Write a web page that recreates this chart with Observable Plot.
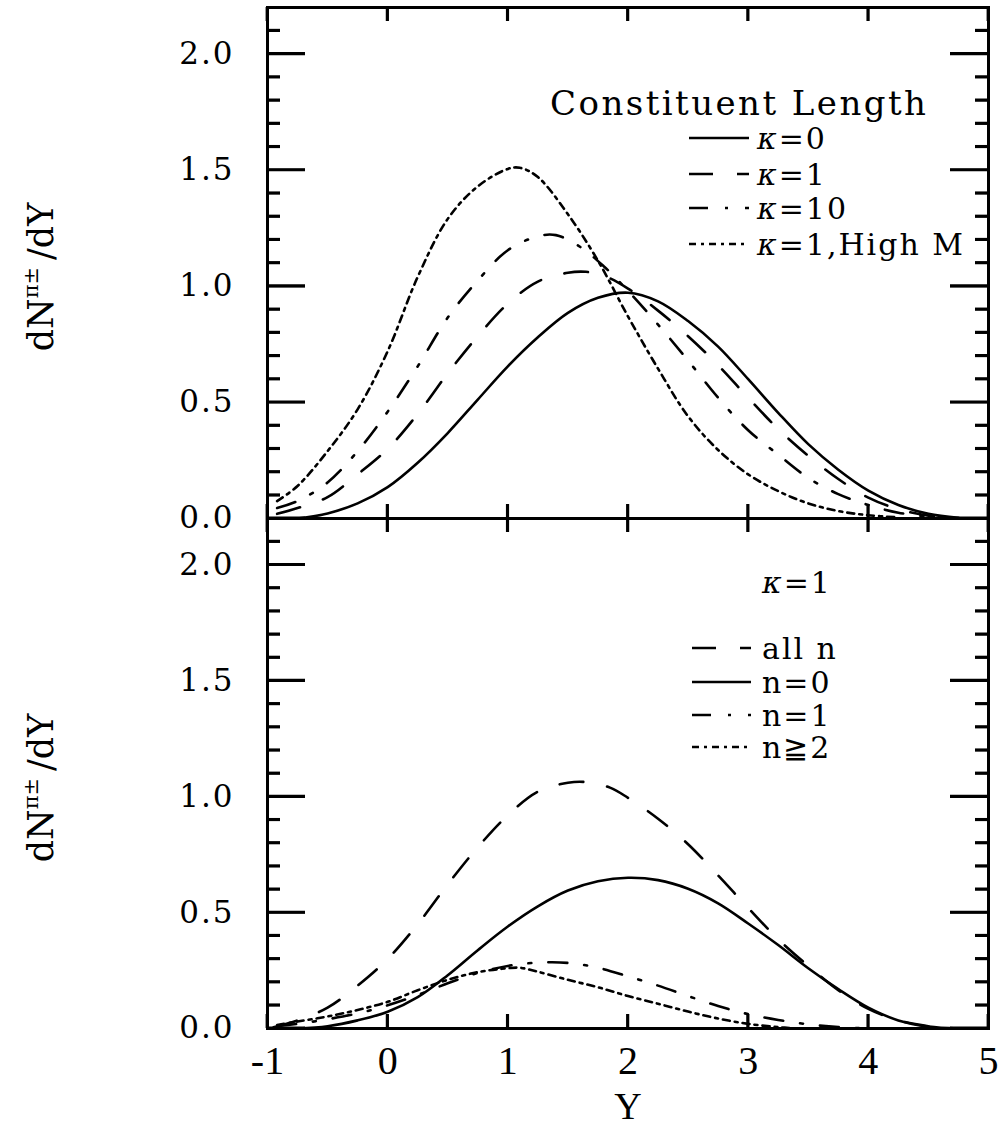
<!DOCTYPE html>
<html><head><meta charset="utf-8">
<script src="https://cdn.jsdelivr.net/npm/d3@7"></script>
<script src="https://cdn.jsdelivr.net/npm/@observablehq/plot@0.6"></script>
<style>
body{margin:0;background:#fff;}
#wrap{position:relative;width:1005px;height:1128px;background:#fff;}
#wrap > svg{position:absolute;left:0;top:0;}
</style></head><body><div id="wrap"></div>
<script>
// ---- axis ticks ----
const xTicks = [-1, 0, 1, 2, 3, 4, 5];
const xTickLabels = ["-1", "0", "1", "2", "3", "4", "5"];
const yMajor = [0, 0.5, 1, 1.5, 2];
const yMajorLabels = ["0.0", "0.5", "1.0", "1.5", "2.0"];
const yMinor = [0.1, 0.2, 0.3, 0.4, 0.6, 0.7, 0.8, 0.9, 1.1, 1.2, 1.3, 1.4, 1.6, 1.7, 1.8, 1.9, 2.1];

// ---- top panel: Constituent Length ----
const topTitle = "Constituent Length";
const topLabels = ["κ=0", "κ=1", "κ=10", "κ=1,High M"];
const k0X = [-0.75,-0.5,-0.25,0,0.25,0.5,0.75,1,1.25,1.5,1.75,2,2.25,2.5,2.75,3,3.25,3.5,3.75,4,4.25,4.5,4.75];
const k0Y = [0,0.022,0.065,0.135,0.24,0.368,0.512,0.655,0.78,0.885,0.95,0.972,0.935,0.85,0.74,0.60,0.455,0.32,0.21,0.12,0.058,0.02,0.003];
const k1X = [-0.92,-0.75,-0.5,-0.25,0,0.25,0.5,0.75,1,1.25,1.5,1.65,1.8,2,2.25,2.5,2.75,3,3.25,3.5,3.75,4,4.25,4.5,4.7];
const k1Y = [0.02,0.045,0.092,0.19,0.30,0.45,0.625,0.785,0.925,1.02,1.058,1.062,1.045,0.99,0.895,0.785,0.66,0.52,0.385,0.27,0.17,0.09,0.04,0.012,0.002];
const k10X = [-0.92,-0.75,-0.5,-0.25,0,0.25,0.5,0.75,1,1.25,1.4,1.6,1.8,2,2.25,2.5,2.75,3,3.25,3.5,3.75,4,4.25,4.5];
const k10Y = [0.045,0.075,0.155,0.29,0.46,0.655,0.865,1.025,1.155,1.215,1.22,1.17,1.085,0.98,0.835,0.68,0.52,0.38,0.275,0.175,0.105,0.058,0.025,0.007];
const hmX = [-0.92,-0.75,-0.5,-0.25,0,0.25,0.5,0.75,1,1.1,1.25,1.5,1.75,2,2.25,2.5,2.75,3,3.25,3.5,3.75,4,4.25];
const hmY = [0.075,0.14,0.29,0.47,0.72,1.04,1.29,1.43,1.505,1.51,1.47,1.31,1.11,0.87,0.645,0.44,0.295,0.19,0.118,0.065,0.032,0.014,0.005];

// ---- bottom panel: kappa = 1 decomposition ----
const bottomHeader = "κ=1";
const bottomLabels = ["all n", "n=0", "n=1", "n≧2"];
const allX = [-0.95,-0.75,-0.5,-0.25,0,0.25,0.5,0.75,1,1.25,1.5,1.65,1.85,2,2.25,2.5,2.75,3,3.25,3.5,3.75,4,4.25,4.5,4.7];
const allY = [0.005,0.035,0.09,0.185,0.30,0.45,0.622,0.782,0.92,1.022,1.06,1.063,1.039,0.995,0.905,0.795,0.66,0.52,0.385,0.27,0.165,0.085,0.035,0.01,0.001];
const n0X = [-0.75,-0.5,-0.25,0,0.25,0.5,0.75,1,1.25,1.5,1.75,2,2.25,2.5,2.75,3,3.25,3.5,3.75,4,4.25,4.5,4.75];
const n0Y = [0,0.01,0.035,0.072,0.135,0.23,0.338,0.44,0.527,0.595,0.635,0.65,0.64,0.603,0.54,0.453,0.36,0.26,0.17,0.09,0.035,0.008,0];
const n1X = [-0.92,-0.75,-0.5,-0.25,0,0.25,0.5,0.75,1,1.25,1.5,1.75,2,2.25,2.5,2.75,3,3.25,3.5,3.75,4];
const n1Y = [0.01,0.02,0.04,0.065,0.10,0.145,0.195,0.24,0.27,0.284,0.283,0.262,0.225,0.185,0.14,0.097,0.062,0.037,0.018,0.006,0];
const n2X = [-0.92,-0.75,-0.5,-0.25,0,0.25,0.5,0.75,1,1.1,1.25,1.5,1.75,2,2.25,2.5,2.75,3,3.25,3.4];
const n2Y = [0.015,0.03,0.052,0.08,0.115,0.165,0.21,0.243,0.26,0.262,0.245,0.21,0.178,0.14,0.107,0.073,0.043,0.02,0.006,0];

// ---- styles ----
const SOLID = null, DASH = "24,24", DASHDOT = "19,17,3,17", DASHDOTDOT = "7,5,3,5";
const W = 1005, H = 1128, ML = 267, MR = 17;
const FW = W - ML - MR;

function rows(xs, ys) { return xs.map((x, i) => ({x, y: ys[i]})); }

function panel(series, mt, mb, withXLabels) {
  const FH = H - mt - mb;
  const marks = [];
  for (const s of series) {
    const opts = {x: "x", y: "y", curve: "catmull-rom", stroke: "black", strokeWidth: 2.6, clip: true};
    if (s.dash) opts.strokeDasharray = s.dash;
    marks.push(Plot.line(rows(s.x, s.y), opts));
  }
  const tk = {stroke: "black", strokeWidth: 2.5};
  marks.push(Plot.tickY(yMajor, {y: d => d, insetRight: FW - 38, ...tk}));
  marks.push(Plot.tickY(yMajor, {y: d => d, insetLeft: FW - 38, ...tk}));
  marks.push(Plot.tickY(yMinor, {y: d => d, insetRight: FW - 13, ...tk}));
  marks.push(Plot.tickY(yMinor, {y: d => d, insetLeft: FW - 13, ...tk}));
  marks.push(Plot.tickX(xTicks, {x: d => d, insetTop: FH - 14, ...tk}));
  marks.push(Plot.tickX(xTicks, {x: d => d, insetBottom: FH - 14, ...tk}));
  marks.push(Plot.axisY(yMajor, {anchor: "left", tickSize: 0, tickPadding: 33,
    tickFormat: d => yMajorLabels[yMajor.indexOf(d)], fontSize: 31, fontFamily: "DejaVu Serif", label: null}));
  if (withXLabels) {
    marks.push(Plot.axisX(xTicks, {anchor: "bottom", tickSize: 0, tickPadding: 17,
      tickFormat: d => xTickLabels[xTicks.indexOf(d)], fontSize: 40, fontFamily: "Liberation Serif", label: null}));
    marks.push(Plot.text(["Y"], {frameAnchor: "bottom", dy: 78, fontSize: 38, fontFamily: "Liberation Serif", lineAnchor: "middle"}));
  }
  marks.push(Plot.frame({strokeWidth: 3}));
  return Plot.plot({
    width: W, height: H, marginLeft: ML, marginRight: MR, marginTop: mt, marginBottom: mb,
    x: {domain: [-1, 5], axis: withXLabels ? undefined : null},
    y: {domain: [0, 2.2]},
    style: {background: "transparent", overflow: "visible"},
    marks
  });
}

// inward edge ticks drawn after the chart is in the page, through the chart's scales
function edgeTicks(chart, mt) {
  const sx = chart.scale("x"), sy = chart.scale("y");
  const xl = sx.apply(-1), xr = sx.apply(5), yb = sy.apply(0);
  const root = d3.select(chart);
  const seg = (x1, y1, x2, y2) => root.append("line")
    .attr("x1", x1).attr("y1", y1).attr("x2", x2).attr("y2", y2)
    .attr("stroke", "black").attr("stroke-width", 2.8);
  const h = (v, len) => { const y = sy.apply(v); seg(xl, y, xl + len, y); seg(xr, y, xr - len, y); };
  yMajor.forEach(v => h(v, 38));
  yMinor.forEach(v => h(v, 13));
  xTicks.forEach(v => { const x = sx.apply(v); seg(x, yb, x, yb - 14); seg(x, mt, x, mt + 14); });
}

function yTitle(svg, cy) {
  const t = d3.select(svg).append("text")
    .attr("transform", `translate(53,${cy}) rotate(-90)`)
    .attr("text-anchor", "middle").attr("font-family", "DejaVu Serif")
    .attr("font-size", 35).attr("fill", "black");
  t.append("tspan").text("dN");
  t.append("tspan").attr("font-size", 21).attr("dy", -15).text("π±");
  t.append("tspan").attr("dy", 15).text("\u2009/dY");
}

function addLabel(svg, xt, baseline, label) {
  const t = d3.select(svg).append("text").attr("x", xt).attr("y", baseline)
    .attr("text-anchor", "start").style("letter-spacing", "2px")
    .attr("font-family", "DejaVu Serif").attr("font-size", 30).attr("fill", "black");
  if (label.startsWith("κ")) {
    t.append("tspan").attr("font-style", "italic").text("κ");
    t.append("tspan").text(label.slice(1));
  } else {
    t.text(label);
  }
}

function legendRow(svg, x1, x2, xt, baseline, dash, label) {
  const ln = d3.select(svg).append("line").attr("x1", x1).attr("x2", x2)
    .attr("y1", baseline - 11).attr("y2", baseline - 11)
    .attr("stroke", "black").attr("stroke-width", 2.6);
  if (dash) ln.attr("stroke-dasharray", dash);
  addLabel(svg, xt, baseline, label);
}

const wrap = document.getElementById("wrap");

const bottomChart = panel([
  {x: allX, y: allY, dash: DASH},
  {x: n0X, y: n0Y, dash: SOLID},
  {x: n1X, y: n1Y, dash: DASHDOT},
  {x: n2X, y: n2Y, dash: DASHDOTDOT}
], 518, H - 1028, true);
wrap.appendChild(bottomChart);

const topChart = panel([
  {x: k0X, y: k0Y, dash: SOLID},
  {x: k1X, y: k1Y, dash: DASH},
  {x: k10X, y: k10Y, dash: DASHDOT},
  {x: hmX, y: hmY, dash: DASHDOTDOT}
], 7, H - 518, false);
wrap.appendChild(topChart);

edgeTicks(bottomChart, 518);
edgeTicks(topChart, 7);

for (const svg of [topChart, bottomChart]) {
  d3.select(svg).selectAll('g[aria-label="y-axis tick label"] text').style("letter-spacing", "2px");
}

// y titles
yTitle(topChart, 277);
yTitle(bottomChart, 788);

// top legend
d3.select(topChart).append("text").attr("x", 550).attr("y", 115)
  .attr("text-anchor", "start")
  .attr("font-family", "DejaVu Serif").attr("font-size", 34).attr("fill", "black")
  .attr("textLength", 376).attr("lengthAdjust", "spacing").text(topTitle);
const topDashes = [SOLID, DASH, DASHDOT, DASHDOTDOT];
const topBaselines = [149, 185, 219, 255];
topLabels.forEach((lab, i) => legendRow(topChart, 689, 749, 757, topBaselines[i], topDashes[i], lab));

// bottom legend
addLabel(bottomChart, 762, 593, bottomHeader);
const botDashes = [DASH, SOLID, DASHDOT, DASHDOTDOT];
const botBaselines = [659, 693, 726, 758];
bottomLabels.forEach((lab, i) => legendRow(bottomChart, 692, 751, 762, botBaselines[i], botDashes[i], lab));
</script>
</body></html>
